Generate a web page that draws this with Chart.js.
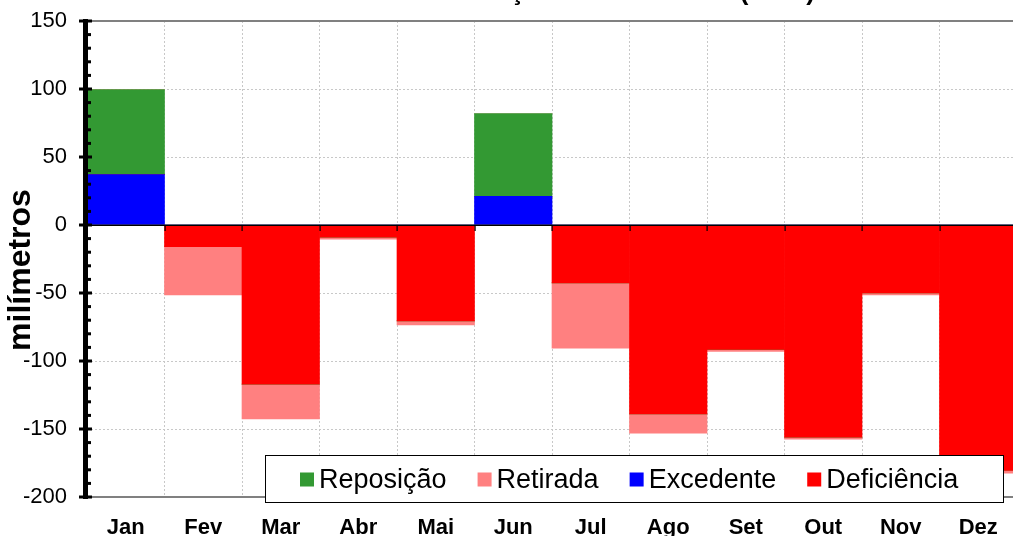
<!DOCTYPE html>
<html>
<head>
<meta charset="utf-8">
<script src="https://cdn.jsdelivr.net/npm/chart.js@4"></script>
<style>
body { margin: 0; overflow: hidden; background: #fff; }
#wrap { width: 1013px; height: 536px; overflow: hidden; }
</style>
</head>
<body>
<div id="wrap"><canvas id="myChart" width="1017" height="536" style="width:1017px;height:536px"></canvas></div>
<script>
var meses = ['Jan', 'Fev', 'Mar', 'Abr', 'Mai', 'Jun', 'Jul', 'Ago', 'Set', 'Out', 'Nov', 'Dez'];
var reposicao = [62.5, 0, 0, 0, 0, 61, 0, 0, 0, 0, 0, 0];
var retirada = [0, -35.5, -25.5, -1.5, -3, 0, -48, -14, -1.5, -1.5, -1.5, -2];
var excedente = [37, 0, 0, 0, 0, 21, 0, 0, 0, 0, 0, 0];
var deficiencia = [0, -16, -117, -9, -70.5, 0, -42.5, -139, -91.5, -156, -50, -180.5];
var yTicks = [-200, -150, -100, -50, 0, 50, 100, 150];
var titulo = 'Extrato do Balanço Hídrico Mensal (2018)';
var eixoY = 'milímetros';

var FONT = "'Liberation Sans', Arial, sans-serif";

var extras = {
    id: 'extras',
    afterDatasetsDraw: function (chart) {
        var ctx = chart.ctx;
        var a = chart.chartArea;
        var y = chart.scales.y;
        ctx.save();

        // top and bottom frame lines
        ctx.fillStyle = '#808080';
        ctx.fillRect(a.left, a.top - 1, a.right - a.left, 2);
        ctx.fillRect(a.left, a.bottom - 1, a.right - a.left, 2);

        // zero line with category ticks
        var y0 = y.getPixelForValue(0);
        ctx.fillStyle = '#000';
        ctx.fillRect(a.left, y0 - 0.5, a.right - a.left, 1.5);
        var step = (a.right - a.left) / meses.length;
        for (var i = 1; i < meses.length; i++) {
            var xx = Math.round(a.left + step * i);
            ctx.fillRect(xx - 0.5, y0, 1.2, 6);
        }

        // thick y axis with major/minor ticks
        ctx.fillRect(a.left - 4, a.top - 2, 5, a.bottom - a.top + 4);
        for (var v = y.min; v <= y.max; v += 10) {
            var py = y.getPixelForValue(v);
            if (v % 50 === 0) {
                ctx.fillRect(a.left - 8, py - 1.5, 13, 3);
            } else {
                ctx.fillRect(a.left, py - 1.5, 4, 3);
            }
        }

        // legend box inside the plot
        var bx = 265, by = 455, bw = 738, bh = 47;
        ctx.fillStyle = '#fff';
        ctx.fillRect(bx, by, bw, bh);
        ctx.strokeStyle = '#000';
        ctx.lineWidth = 1;
        ctx.strokeRect(bx + 0.5, by + 0.5, bw, bh);
        ctx.font = '27px ' + FONT;
        ctx.textBaseline = 'middle';
        ctx.textAlign = 'left';
        var ds = chart.data.datasets;
        var sq = 14, gapTxt = 5, gapItem = 31;
        var cx = 300;
        var cy = by + bh / 2 + 1;
        ds.forEach(function (d) {
            ctx.fillStyle = d.backgroundColor;
            ctx.fillRect(cx, cy - sq / 2, sq, sq);
            cx += sq + gapTxt;
            ctx.fillStyle = '#000';
            ctx.fillText(d.label, cx, cy + 1);
            cx += ctx.measureText(d.label).width + gapItem;
        });

        // title, mostly above the top edge
        ctx.font = 'bold 26px ' + FONT;
        ctx.textAlign = 'right';
        ctx.textBaseline = 'alphabetic';
        ctx.fillStyle = '#000';
        ctx.fillText(titulo, 815, 0);

        // y axis title
        ctx.translate(21, 270);
        ctx.rotate(-Math.PI / 2);
        ctx.font = 'bold 32px ' + FONT;
        ctx.textAlign = 'center';
        ctx.textBaseline = 'middle';
        ctx.fillText(eixoY, 0, 0);
        ctx.restore();
    }
};

var ctx = document.getElementById('myChart').getContext('2d');
var myChart = new Chart(ctx, {
    type: 'bar',
    data: {
        labels: meses,
        datasets: [
            { label: 'Reposição', data: reposicao, backgroundColor: '#339933', order: 1 },
            { label: 'Retirada', data: retirada, backgroundColor: '#FF8080', order: 1 },
            { label: 'Excedente', data: excedente, backgroundColor: '#0000FF', order: 0 },
            { label: 'Deficiência', data: deficiencia, backgroundColor: '#FF0000', order: 0 }
        ]
    },
    options: {
        responsive: false,
        animation: false,
        devicePixelRatio: 1,
        layout: { padding: { top: 21, left: 0, right: 0, bottom: 0 } },
        datasets: {
            bar: { barPercentage: 1, categoryPercentage: 1, borderWidth: 0 }
        },
        plugins: {
            legend: { display: false },
            title: { display: false },
            tooltip: { enabled: false }
        },
        scales: {
            x: {
                stacked: true,
                afterFit: function (s) { s.height = 39; s.paddingLeft = 0; s.paddingRight = 0; },
                grid: { color: '#c8c8c8', drawTicks: false, offset: true },
                border: { display: false, dash: [2, 2] },
                ticks: { color: '#000', padding: 18, font: { family: FONT, size: 22, weight: 'bold' } }
            },
            y: {
                stacked: true,
                min: -200,
                max: 150,
                afterFit: function (s) { s.width = 87; s.paddingTop = 0; s.paddingBottom = 0; },
                afterBuildTicks: function (s) { s.ticks = yTicks.map(function (v) { return { value: v }; }); },
                grid: { color: '#c8c8c8', drawTicks: false },
                border: { display: false, dash: [2, 2] },
                ticks: { color: '#000', padding: 20, font: { family: FONT, size: 22 } }
            }
        }
    },
    plugins: [extras]
});
</script>
</body>
</html>
